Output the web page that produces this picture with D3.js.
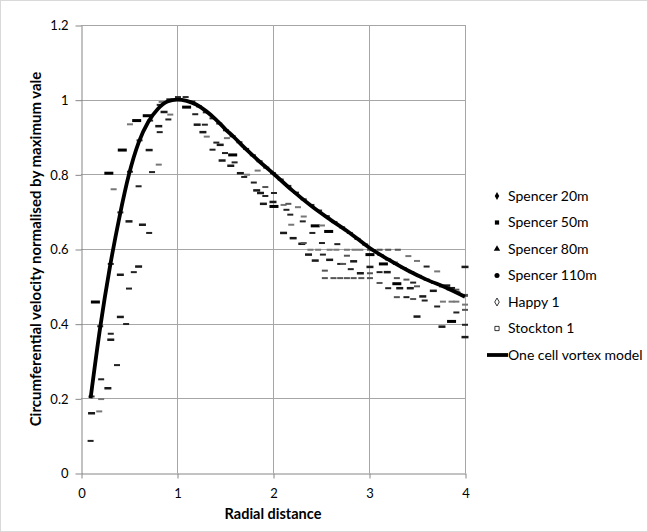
<!DOCTYPE html>
<html>
<head>
<meta charset="utf-8">
<script src="https://cdn.jsdelivr.net/npm/d3@7"></script>
<style>
  html, body { margin: 0; padding: 0; background: #fff; }
  svg { display: block; font-family: Lato, "Open Sans", sans-serif; }
</style>
</head>
<body>
<svg id="chart" width="648" height="532"></svg>
<script>
// ---------------- data ----------------
const xTicks = [0, 1, 2, 3, 4];
const yTicks = [0, 0.2, 0.4, 0.6, 0.8, 1, 1.2];
const xTitle = "Radial distance";
const yTitle = "Circumferential velocity normalised by maximum vale";
const seriesNames = ["Spencer 20m", "Spencer 50m", "Spencer 80m", "Spencer 110m", "Happy 1", "Stockton 1"];
const modelName = "One cell vortex model";

const spencer20 = [[0.11,0.205],[0.20,0.393],[0.31,0.56],[0.41,0.698],[0.51,0.807],[0.61,0.891],[0.72,0.944],[0.82,0.986],[0.92,1.001],[1.01,1.007],[1.09,1.007],[1.16,0.995],[1.23,0.982],[1.30,0.966],[1.37,0.950],[1.44,0.936],[1.51,0.918],[1.58,0.902],[1.65,0.886],[1.72,0.868],[1.79,0.851],[1.86,0.835],[1.93,0.818],[2.00,0.803],[2.08,0.786],[2.16,0.769],[2.24,0.751],[2.32,0.733],[2.40,0.718],[2.48,0.703],[2.56,0.688],[2.64,0.672],[2.72,0.658],[2.80,0.643],[2.88,0.627],[2.96,0.612],[3.04,0.597],[3.12,0.584],[3.20,0.572],[3.28,0.560],[3.36,0.549],[3.44,0.538],[3.52,0.528],[3.60,0.518],[3.68,0.509],[3.76,0.500],[3.84,0.492],[3.92,0.484],[4.0,0.475]];
const spencer50 = [[0.15,0.458],[0.29,0.803],[0.43,0.865],[0.58,0.944],[0.69,0.957],[1.10,0.980],[2.01,0.714],[2.44,0.662],[3.01,0.585],[3.15,0.560],[3.86,0.406],[1.58,0.852],[2.58,0.647],[3.29,0.507]];
const spencer80 = [[0.10,0.086],[0.21,0.251],[0.375,0.289],[0.31,0.373],[0.47,0.399],[0.50,0.494],[0.55,0.538],[0.71,0.643],[0.60,0.768],[0.74,0.806],[0.82,0.913],[0.91,0.947],[1.19,0.961],[1.29,0.933],[1.41,0.885],[1.37,0.866],[1.50,0.857],[1.60,0.832],[1.70,0.793],[1.80,0.778],[1.92,0.742],[2.01,0.750],[2.14,0.705],[2.18,0.692],[2.31,0.674],[2.41,0.643],[2.51,0.616],[2.67,0.613],[2.52,0.585],[2.70,0.560],[2.81,0.546],[3.11,0.538],[3.20,0.495],[3.39,0.471],[3.46,0.510],[3.58,0.462],[3.71,0.446],[3.91,0.430],[4.0,0.397],[3.60,0.553]];
const spencer110 = [[0.11,0.160],[0.28,0.227],[0.31,0.357],[0.41,0.418],[0.41,0.531],[0.60,0.553],[0.64,0.665],[0.50,0.674],[0.71,0.865],[0.81,0.929],[0.865,0.967],[1.21,0.933],[1.27,0.913],[1.45,0.879],[1.47,0.837],[1.56,0.823],[1.66,0.803],[1.83,0.757],[1.87,0.750],[2.00,0.726],[1.90,0.721],[2.11,0.643],[2.21,0.629],[2.30,0.614],[2.37,0.585],[2.44,0.569],[2.59,0.571],[2.84,0.567],[2.91,0.535],[3.01,0.552],[3.19,0.538],[3.32,0.495],[3.43,0.495],[3.50,0.419],[3.56,0.473],[3.67,0.488],[3.76,0.392],[3.81,0.502],[4.0,0.552],[4.0,0.364],[3.86,0.495]];
const happy1 = [[0.19,0.165],[0.21,0.198],[0.34,0.760],[0.51,0.934],[0.81,0.826],[0.84,0.994],[0.93,0.960],[0.97,1.0],[1.31,0.901],[1.52,0.897],[1.73,0.799],[1.84,0.810],[2.11,0.718],[2.26,0.712],[2.32,0.687],[2.19,0.665],[2.51,0.663],[2.39,0.598],[2.47,0.598],[2.59,0.598],[2.66,0.598],[2.77,0.598],[2.85,0.598],[2.91,0.598],[3.27,0.564],[3.41,0.581],[3.50,0.568],[3.71,0.540],[4.0,0.451],[3.77,0.459],[3.86,0.459],[3.91,0.459]];
const stockton1 = [[1.92,0.766],[2.16,0.721],[2.32,0.616],[2.54,0.542],[2.73,0.560],[2.77,0.582],[3.01,0.535],[3.01,0.598],[3.11,0.598],[3.20,0.598],[3.30,0.598],[2.54,0.522],[2.63,0.522],[2.70,0.522],[2.77,0.522],[2.84,0.522],[2.92,0.522],[3.01,0.522],[3.29,0.522],[3.11,0.509],[3.39,0.518],[3.50,0.500],[3.46,0.466],[3.29,0.471],[3.91,0.491],[4.0,0.477],[4.0,0.437]];

const modelX = [0.1,0.2,0.3,0.4,0.5,0.6,0.7,0.8,0.9,1.0,1.1,1.2,1.3,1.4,1.5,1.6,1.7,1.8,1.9,2.0,2.2,2.4,2.6,2.8,3.0,3.2,3.4,3.6,3.8,4.0];
const modelY = [0.20,0.39,0.55,0.685,0.80,0.885,0.94,0.975,0.995,1.0,0.997,0.987,0.97,0.948,0.922,0.898,0.872,0.848,0.825,0.803,0.757,0.715,0.678,0.643,0.604,0.572,0.543,0.518,0.497,0.472];

// ---------------- layout ----------------
const svg = d3.select("#chart");
const W = 648, H = 532;
const plot = { left: 81, right: 465, top: 25, bottom: 473 };

const x = d3.scaleLinear().domain([0, 4]).range([plot.left, plot.right]);
const y = d3.scaleLinear().domain([0, 1.2]).range([plot.bottom, plot.top]);

// outer border
svg.append("rect").attr("x", 0.5).attr("y", 0.5).attr("width", W - 1).attr("height", H - 1)
  .attr("fill", "#fff").attr("stroke", "#d9d9d9");

// gridlines
const grid = svg.append("g");
grid.selectAll("line.h").data(yTicks.filter(d => d > 0)).join("line")
  .attr("x1", plot.left).attr("x2", plot.right)
  .attr("y1", d => Math.round(y(d)) + 0.5).attr("y2", d => Math.round(y(d)) + 0.5)
  .attr("stroke", "#a6a6a6").attr("stroke-width", 1);
grid.selectAll("line.v").data(xTicks.filter(d => d > 0)).join("line")
  .attr("y1", plot.top).attr("y2", plot.bottom)
  .attr("x1", d => Math.round(x(d)) + 0.5).attr("x2", d => Math.round(x(d)) + 0.5)
  .attr("stroke", "#a6a6a6").attr("stroke-width", 1);

// axes
const fmt = d => d === 0 ? "0" : (Number.isInteger(d) ? String(d) : d.toFixed(1));
const xAxis = svg.append("g").attr("transform", `translate(0.5,${plot.bottom + 0.5})`)
  .call(d3.axisBottom(x).tickValues(xTicks).tickSize(5).tickSizeOuter(0).tickFormat(fmt));
const yAxis = svg.append("g").attr("transform", `translate(${plot.left + 0.5},0.5)`)
  .call(d3.axisLeft(y).tickValues(yTicks).tickSize(6).tickSizeOuter(0).tickFormat(fmt));
[xAxis, yAxis].forEach(a => {
  a.select(".domain").attr("stroke", "#868686");
  a.selectAll(".tick line").attr("stroke", "#868686");
  a.selectAll(".tick text").attr("fill", "#000").attr("font-size", 13).attr("font-family", "Lato, sans-serif");
});
xAxis.selectAll(".tick text").attr("y", 15);
yAxis.selectAll(".tick text").attr("x", -13);

// axis titles
svg.append("text").attr("x", x(2)).attr("y", 519)
  .attr("text-anchor", "middle").attr("font-weight", "bold").attr("font-size", 14.5)
  .text(xTitle);
svg.append("text")
  .attr("transform", `translate(41,${(plot.top + plot.bottom) / 2}) rotate(-90)`)
  .attr("text-anchor", "middle").attr("font-weight", "bold").attr("font-size", 15)
  .text(yTitle);

// scatter series drawn as short dashes
const series = [
  { data: spencer20, w: 6, h: 2, fill: "#2a2a2a" },
  { data: spencer50, w: 9, h: 3, fill: "#000" },
  { data: spencer80, w: 6, h: 2, fill: "#222" },
  { data: spencer110, w: 7, h: 2.5, fill: "#1a1a1a" },
  { data: happy1, w: 6, h: 2, fill: "#777" },
  { data: stockton1, w: 6, h: 2, fill: "#555" }
];
const pts = svg.append("g");
series.forEach(s => {
  pts.append("g").selectAll("rect").data(s.data).join("rect")
    .attr("x", d => x(d[0]) - s.w / 2).attr("y", d => y(d[1]) - s.h / 2)
    .attr("width", s.w).attr("height", s.h)
    .attr("fill", s.fill);
});

// model line
const modelData = modelX.map((v, i) => [v, modelY[i]]);
svg.append("path").datum(modelData)
  .attr("fill", "none").attr("stroke", "#000").attr("stroke-width", 3.8)
  .attr("stroke-linejoin", "round")
  .attr("d", d3.line().x(d => x(d[0])).y(d => y(d[1])).curve(d3.curveMonotoneX));

// legend
const legY = [196, 222.5, 249, 275.5, 302, 328.5, 355];
const symTypes = [
  { t: d3.symbolDiamond, size: 18, fill: "#000", stroke: "none" },
  { t: d3.symbolSquare, size: 18, fill: "#000", stroke: "none" },
  { t: d3.symbolTriangle, size: 18, fill: "#000", stroke: "none" },
  { t: d3.symbolCircle, size: 20, fill: "#000", stroke: "none" },
  { t: d3.symbolDiamond, size: 18, fill: "#fff", stroke: "#000" },
  { t: d3.symbolSquare, size: 18, fill: "#fff", stroke: "#000" }
];
const leg = svg.append("g");
seriesNames.forEach((name, i) => {
  leg.append("path").attr("transform", `translate(497,${legY[i]})`)
    .attr("d", d3.symbol().type(symTypes[i].t).size(symTypes[i].size)())
    .attr("fill", symTypes[i].fill).attr("stroke", symTypes[i].stroke).attr("stroke-width", 0.8);
  leg.append("text").attr("x", 508).attr("y", legY[i]).attr("dy", "0.35em")
    .attr("font-size", 14).text(name);
});
leg.append("line").attr("x1", 487).attr("x2", 508).attr("y1", legY[6]).attr("y2", legY[6])
  .attr("stroke", "#000").attr("stroke-width", 3.8);
leg.append("text").attr("x", 508).attr("y", legY[6]).attr("dy", "0.35em")
  .attr("font-size", 14).text(modelName);
</script>
</body>
</html>
